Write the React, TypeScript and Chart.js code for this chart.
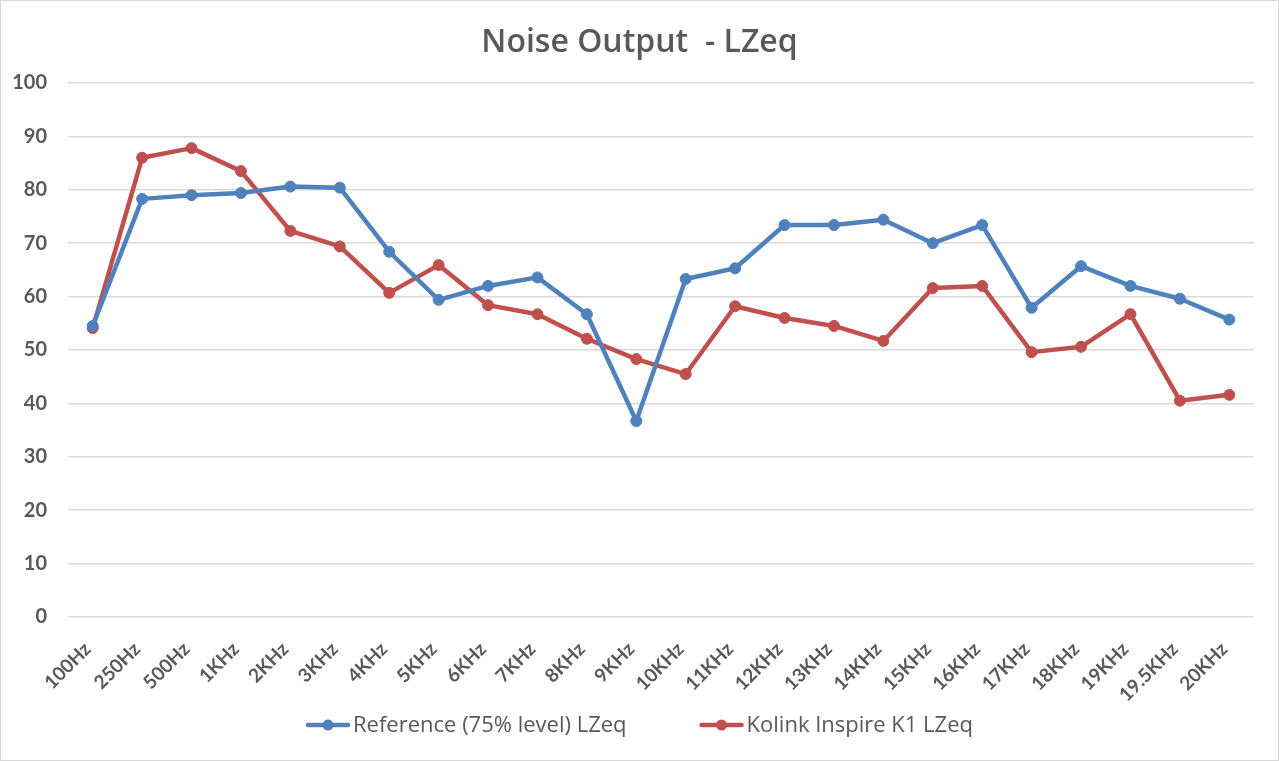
import React, { useEffect, useRef } from "react";
import { Chart, registerables } from "chart.js";

Chart.register(...registerables);

const chartTitle = "Noise Output  - LZeq";

const categories = [
  "100Hz", "250Hz", "500Hz", "1KHz", "2KHz", "3KHz", "4KHz", "5KHz", "6KHz", "7KHz", "8KHz", "9KHz",
  "10KHz", "11KHz", "12KHz", "13KHz", "14KHz", "15KHz", "16KHz", "17KHz", "18KHz", "19KHz", "19.5KHz", "20KHz",
];

const referenceValues = [
  54.5, 78.3, 79.0, 79.4, 80.6, 80.4, 68.4, 59.4, 62.0, 63.6, 56.7, 36.7,
  63.3, 65.3, 73.4, 73.4, 74.4, 70.0, 73.4, 57.9, 65.7, 62.0, 59.6, 55.7,
];

const kolinkValues = [
  54.1, 86.0, 87.8, 83.5, 72.3, 69.4, 60.7, 65.9, 58.4, 56.7, 52.1, 48.3,
  45.5, 58.2, 56.0, 54.5, 51.7, 61.6, 62.0, 49.6, 50.6, 56.7, 40.5, 41.6,
];

const seriesNames = ["Reference (75% level) LZeq", "Kolink Inspire K1 LZeq"];
const seriesColors = ["#4F81BD", "#C0504D"];

const yMin = 0;
const yMax = 100;
const yStep = 10;

const FONT = "Lato";
const FONT2 = "'Open Sans'";
const TEXT = "#595959";

const backgroundPlugin = {
  id: "bgBorder",
  beforeDraw(chart: any) {
    const ctx = chart.ctx;
    ctx.save();
    ctx.fillStyle = "#ffffff";
    ctx.fillRect(0, 0, chart.width, chart.height);
    ctx.strokeStyle = "#d9d9d9";
    ctx.lineWidth = 1;
    ctx.strokeRect(0.5, 0.5, chart.width - 1, chart.height - 1);
    ctx.restore();
  },
};

const titlePlugin = {
  id: "customTitle",
  afterDraw(chart: any) {
    const ctx = chart.ctx;
    ctx.save();
    ctx.font = `600 32px ${FONT2}`;
    ctx.fillStyle = TEXT;
    ctx.textAlign = "center";
    ctx.textBaseline = "middle";
    ctx.fillText(chartTitle, chart.width / 2, 43);
    ctx.restore();
  },
};

const legendPlugin = {
  id: "customLegend",
  afterDraw(chart: any) {
    const ctx = chart.ctx;
    ctx.save();
    ctx.font = `500 22px ${FONT2}`;
    const lineW = 44;
    const gapText = 3;
    const gapItem = 73;
    const widths = seriesNames.map((n) => ctx.measureText(n).width);
    const total =
      widths.reduce((a, w) => a + lineW + gapText + w, 0) + gapItem * (seriesNames.length - 1);
    let x = chart.width / 2 - total / 2;
    const y = 725;
    seriesNames.forEach((name, i) => {
      ctx.strokeStyle = seriesColors[i];
      ctx.lineWidth = 4.5;
      ctx.lineCap = "round";
      ctx.beginPath();
      ctx.moveTo(x + 2, y);
      ctx.lineTo(x + lineW - 2, y);
      ctx.stroke();
      ctx.fillStyle = seriesColors[i];
      ctx.beginPath();
      ctx.arc(x + lineW / 2, y, 5.5, 0, Math.PI * 2);
      ctx.fill();
      ctx.fillStyle = TEXT;
      ctx.textAlign = "left";
      ctx.textBaseline = "middle";
      ctx.fillText(name, x + lineW + gapText, y + 1);
      x += lineW + gapText + widths[i] + gapItem;
    });
    ctx.restore();
  },
};

export default function App() {
  const canvasRef = useRef<HTMLCanvasElement | null>(null);

  useEffect(() => {
    if (!canvasRef.current) return;
    const makeDs = (label: string, data: number[], color: string) => ({
      label,
      data,
      borderColor: color,
      backgroundColor: color,
      borderWidth: 4.5,
      pointRadius: 5.5,
      pointBorderWidth: 1,
      pointBorderColor: color,
      pointBackgroundColor: color,
      borderJoinStyle: "round" as const,
      borderCapStyle: "round" as const,
      tension: 0,
      fill: false,
    });
    const chart = new Chart(canvasRef.current, {
      type: "line",
      data: {
        labels: categories,
        datasets: [
          makeDs(seriesNames[0], referenceValues, seriesColors[0]),
          makeDs(seriesNames[1], kolinkValues, seriesColors[1]),
        ],
      },
      options: {
        animation: false,
        responsive: false,
        devicePixelRatio: 1,
        layout: { padding: { top: 83, right: 25, left: 0, bottom: 0 } },
        plugins: {
          legend: { display: false },
          title: { display: false },
          tooltip: { enabled: false },
        },
        scales: {
          x: {
            type: "category",
            offset: true,
            grid: { display: false },
            border: { display: false },
            ticks: {
              autoSkip: false,
              maxRotation: 45,
              minRotation: 45,
              color: TEXT,
              padding: 13,
              labelOffset: -5,
              font: { family: FONT, size: 19, weight: "bold" },
            },
            afterFit: (s: any) => {
              s.height = 144;
            },
          },
          y: {
            min: yMin,
            max: yMax,
            ticks: {
              stepSize: yStep,
              color: TEXT,
              padding: 21,
              font: { family: FONT, size: 20, weight: "bold" },
            },
            grid: { color: "#d9d9d9", lineWidth: 1.5, drawTicks: false },
            border: { display: false },
            afterFit: (s: any) => {
              s.width = 68;
            },
          },
        },
      },
      plugins: [backgroundPlugin, titlePlugin, legendPlugin],
    });
    return () => chart.destroy();
  }, []);

  return (
    <div style={{ position: "absolute", left: 0, top: 0, width: 1279, height: 761 }}>
      <canvas ref={canvasRef} width={1279} height={761} style={{ width: 1279, height: 761 }} />
    </div>
  );
}
